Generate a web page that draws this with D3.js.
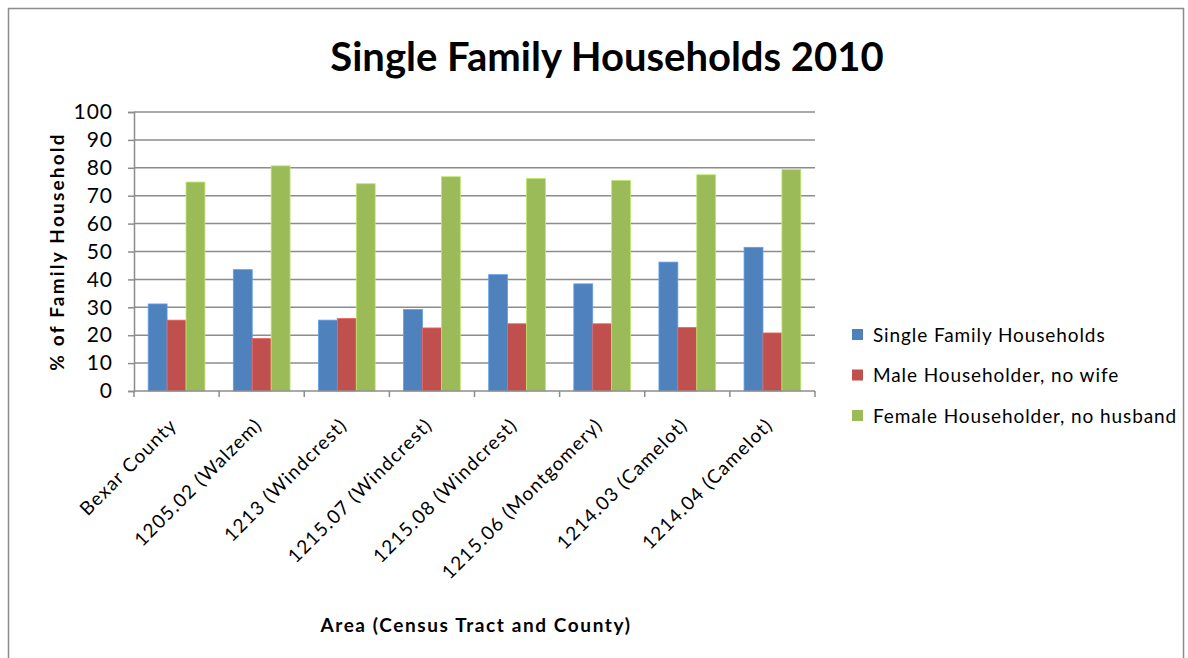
<!DOCTYPE html>
<html>
<head>
<meta charset="utf-8">
<style>
  body { margin: 0; background: #fff; }
  text { font-family: Lato, "Open Sans", sans-serif; fill: #000; }
</style>
</head>
<body>
<svg width="1188" height="658"></svg>
<script src="https://d3js.org/d3.v7.min.js"></script>
<script>

// chart data
var areas = ['Bexar County', '1205.02 (Walzem)', '1213 (Windcrest)', '1215.07 (Windcrest)',
  '1215.08 (Windcrest)', '1215.06 (Montgomery)', '1214.03 (Camelot)', '1214.04 (Camelot)']
var seriesNames = ['Single Family Households', 'Male Householder, no wife', 'Female Householder, no husband']
var singleFamily = [31.2, 43.5, 25.4, 29.2, 41.7, 38.4, 46.2, 51.5]
var maleNoWife = [25.4, 18.8, 26.0, 22.6, 24.1, 24.1, 22.8, 20.8]
var femaleNoHusband = [74.9, 80.7, 74.3, 76.8, 76.2, 75.5, 77.5, 79.4]
var yTicks = [0, 10, 20, 30, 40, 50, 60, 70, 80, 90, 100]
var colors = ['#4F81BD', '#C0504D', '#9BBB59']

var series = [singleFamily, maleNoWife, femaleNoHusband]

var svg = d3.select('svg')

// outer chart border
svg.append('rect')
  .attr('x', 8.5).attr('y', 8.5)
  .attr('width', 1175).attr('height', 680)
  .attr('fill', 'none')
  .attr('stroke', '#8c8c8c')
  .attr('stroke-width', 1.5)

var plotLeft = 134, plotRight = 815, plotTop = 112, plotBottom = 391

var x = d3.scaleBand().domain(areas).range([plotLeft, plotRight])
// 150% gap width: bars fill 3 / 4.5 of each band
var inner = d3.scaleBand().domain([0, 1, 2])
  .range([0, x.bandwidth() * 3 / 4.5])
var y = d3.scaleLinear().domain([0, 100]).range([plotBottom, plotTop])

// gridlines
svg.append('g')
  .selectAll('line')
  .data(yTicks.filter(function (t) { return t > 0 }))
  .enter().append('line')
  .attr('x1', plotLeft).attr('x2', plotRight)
  .attr('y1', function (d) { return y(d) }).attr('y2', function (d) { return y(d) })
  .attr('stroke', '#8c8c8c')
  .attr('stroke-width', 1.5)

// bars
var groups = svg.append('g')
  .selectAll('g')
  .data(areas)
  .enter().append('g')
  .attr('transform', function (d) {
    return 'translate(' + (x(d) + x.bandwidth() * 0.75 / 4.5) + ',0)'
  })

groups.selectAll('rect')
  .data(function (d, i) { return series.map(function (s, k) { return { k: k, v: s[i] } }) })
  .enter().append('rect')
  .attr('x', function (d) { return inner(d.k) })
  .attr('width', inner.bandwidth())
  .attr('y', function (d) { return y(d.v) })
  .attr('height', function (d) { return y(0) - y(d.v) })
  .attr('fill', function (d) { return colors[d.k] })
  .attr('stroke', function (d) { return d3.color(colors[d.k]).brighter(0.6) })
  .attr('stroke-width', 0.8)

// y axis
var yAxis = svg.append('g')
  .attr('transform', 'translate(' + plotLeft + ',0)')
  .call(d3.axisLeft(y).tickValues(yTicks).tickSize(6).tickPadding(15))
yAxis.select('.domain').attr('stroke', '#8c8c8c').attr('stroke-width', 1.5)
yAxis.selectAll('.tick line').attr('stroke', '#8c8c8c').attr('stroke-width', 1.5)
yAxis.selectAll('.tick text')
  .style('font-family', 'Lato, sans-serif')
  .style('letter-spacing', '1px')
  .attr('font-size', 21).attr('fill', '#000')

// x axis: ticks on category boundaries
var xAxisG = svg.append('g').attr('transform', 'translate(0,' + plotBottom + ')')
xAxisG.append('line')
  .attr('x1', plotLeft).attr('x2', plotRight)
  .attr('stroke', '#8c8c8c').attr('stroke-width', 1.5)
xAxisG.selectAll('.bound')
  .data(areas.concat(['end']))
  .enter().append('line')
  .attr('x1', function (d, i) { return plotLeft + i * x.bandwidth() })
  .attr('x2', function (d, i) { return plotLeft + i * x.bandwidth() })
  .attr('y1', 0).attr('y2', 6)
  .attr('stroke', '#8c8c8c').attr('stroke-width', 1.5)

xAxisG.selectAll('.lbl')
  .data(areas)
  .enter().append('text')
  .attr('transform', function (d) {
    return 'translate(' + (x(d) + x.bandwidth() / 2 - 8) + ',26) rotate(-45)'
  })
  .attr('text-anchor', 'end')
  .attr('dy', '0.7em')
  .attr('font-size', 19)
  .style('letter-spacing', '1.2px')
  .text(function (d) { return d })

// titles
svg.append('text')
  .attr('x', 607).attr('y', 71)
  .attr('text-anchor', 'middle')
  .attr('font-size', 40)
  .attr('font-weight', 'bold')
  .text('Single Family Households 2010')

svg.append('text')
  .attr('transform', 'translate(64,' + ((plotTop + plotBottom) / 2) + ') rotate(-90)')
  .attr('text-anchor', 'middle')
  .attr('font-size', 19)
  .attr('font-weight', 'bold')
  .style('letter-spacing', '2.2px')
  .text('% of Family Household')

svg.append('text')
  .attr('x', 476).attr('y', 632)
  .attr('text-anchor', 'middle')
  .attr('font-size', 19)
  .attr('font-weight', 'bold')
  .style('letter-spacing', '1.6px')
  .text('Area (Census Tract and County)')

// legend
var legend = svg.append('g')
  .selectAll('g')
  .data(seriesNames)
  .enter().append('g')
  .attr('transform', function (d, i) { return 'translate(852,' + (335 + i * 40.5) + ')' })

legend.append('rect')
  .attr('x', 0).attr('y', -6)
  .attr('width', 11).attr('height', 11)
  .attr('fill', function (d, i) { return colors[i] })

legend.append('text')
  .attr('x', 21).attr('dy', '0.35em')
  .attr('font-size', 19)
  .style('letter-spacing', '0.9px')
  .text(function (d) { return d })

</script>
</body>
</html>
